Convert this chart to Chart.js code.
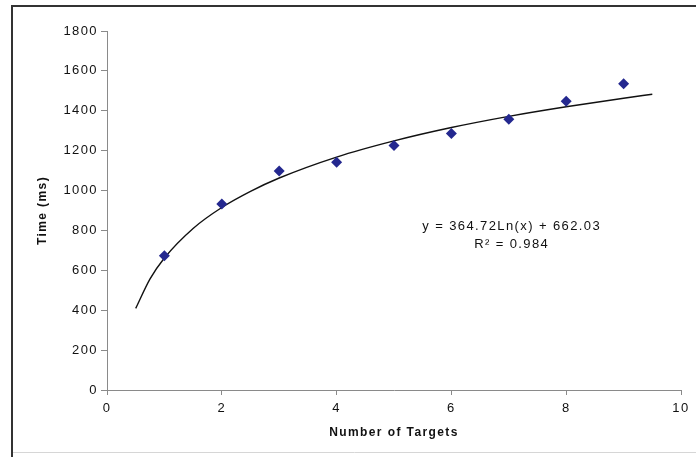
<!DOCTYPE html>
<html lang="en">

<head>
    <meta charset="UTF-8">
    <title>Time vs Number of Targets</title>
    <script src="https://cdn.jsdelivr.net/npm/chart.js"></script>
    <style>
        body {
            margin: 0;
            background: #fff;
        }
    </style>
</head>

<body>
    <canvas id="targetsChart" width="696" height="457"></canvas>
    <script>
        // measured points
        const targets = [1, 2, 3, 4, 5, 6, 7, 8, 9];
        const timesMs = [673, 932, 1098, 1142, 1226, 1286, 1358, 1448, 1536];

        // log trendline
        const fitX = [0.5, 0.75, 1, 1.5, 2, 2.5, 3, 4, 5, 6, 7, 8, 9, 9.5];
        const fitY = [409, 557, 662, 810, 915, 996, 1063, 1168, 1249, 1316, 1372, 1420, 1463, 1483];

        const xTicks = [0, 2, 4, 6, 8, 10];
        const yTicks = [0, 200, 400, 600, 800, 1000, 1200, 1400, 1600, 1800];
        const fitLabels = ['y = 364.72Ln(x) + 662.03', 'R\u00B2 = 0.984'];

        const ink = '#111';
        const axisGrey = '#8a8a8a';
        const family = '"Liberation Sans", Arial, sans-serif';

        // the source picture is a bit stretched sideways, so space the letters out
        const spacing = {
            id: 'spacing',
            beforeUpdate(chart) { chart.ctx.letterSpacing = '1.4px'; },
            beforeDraw(chart) {
                const ctx = chart.ctx;
                ctx.letterSpacing = '1.4px';
                ctx.save();
                ctx.fillStyle = '#fff';
                ctx.fillRect(0, 0, chart.width, chart.height);
                ctx.restore();
            }
        };

        const frameAndEquation = {
            id: 'frameAndEquation',
            afterDraw(chart) {
                const ctx = chart.ctx;
                ctx.save();
                // outer frame (left + top), faint bottom line
                ctx.strokeStyle = '#333';
                ctx.lineWidth = 2;
                ctx.beginPath();
                ctx.moveTo(12, 457);
                ctx.lineTo(12, 6);
                ctx.lineTo(696, 6);
                ctx.stroke();
                ctx.strokeStyle = '#d6d6d6';
                ctx.lineWidth = 1;
                ctx.beginPath();
                ctx.moveTo(13, 452.5);
                ctx.lineTo(696, 452.5);
                ctx.stroke();

                // trendline equation
                const x = chart.scales.x.getPixelForValue(7.05);
                const y = chart.scales.y.getPixelForValue(822);
                ctx.fillStyle = ink;
                ctx.font = '13px ' + family;
                ctx.textAlign = 'center';
                ctx.textBaseline = 'middle';
                ctx.fillText(fitLabels[0], x, y);
                ctx.fillText(fitLabels[1], x, y + 18);
                ctx.restore();
            }
        };

        const ctx = document.getElementById('targetsChart').getContext('2d');

        new Chart(ctx, {
            type: 'scatter',
            data: {
                datasets: [{
                    label: 'Time',
                    data: targets.map((t, i) => ({ x: t, y: timesMs[i] })),
                    pointStyle: 'rectRot',
                    pointRadius: 5.5,
                    backgroundColor: '#24288f',
                    borderColor: '#24288f',
                    borderWidth: 0,
                    order: 1
                }, {
                    label: 'Log fit',
                    type: 'line',
                    data: fitX.map((v, i) => ({ x: v, y: fitY[i] })),
                    borderColor: '#111',
                    borderWidth: 1.4,
                    pointRadius: 0,
                    cubicInterpolationMode: 'monotone',
                    fill: false,
                    order: 2
                }]
            },
            options: {
                responsive: false,
                animation: false,
                events: [],
                layout: {
                    padding: { left: 20, top: 31, right: 15, bottom: 16 }
                },
                plugins: {
                    legend: { display: false },
                    tooltip: { enabled: false }
                },
                scales: {
                    x: {
                        type: 'linear',
                        min: 0,
                        max: 10,
                        afterFit: s => { s.height = 51; },
                        afterBuildTicks: s => { s.ticks = xTicks.map(v => ({ value: v })); },
                        border: { color: axisGrey, width: 1 },
                        grid: { drawOnChartArea: false, color: axisGrey, tickLength: 5 },
                        ticks: {
                            color: ink,
                            padding: 6,
                            callback: v => String(v),
                            font: { family: family, size: 13 }
                        },
                        title: {
                            display: true,
                            text: 'Number of Targets',
                            color: ink,
                            padding: { top: 0, bottom: 1 },
                            font: { family: family, size: 12, weight: 'bold' }
                        }
                    },
                    y: {
                        min: 0,
                        max: 1800,
                        afterFit: s => { s.width = 87; },
                        afterBuildTicks: s => { s.ticks = yTicks.map(v => ({ value: v })); },
                        border: { color: axisGrey, width: 1 },
                        grid: { drawOnChartArea: false, color: axisGrey, tickLength: 6 },
                        ticks: {
                            color: ink,
                            padding: 3,
                            callback: v => String(v),
                            font: { family: family, size: 13 }
                        },
                        title: {
                            display: true,
                            text: 'Time (ms)',
                            color: ink,
                            padding: { top: 15, bottom: 0 },
                            font: { family: family, size: 12, weight: 'bold' }
                        }
                    }
                }
            },
            plugins: [spacing, frameAndEquation]
        });
    </script>
</body>

</html>
